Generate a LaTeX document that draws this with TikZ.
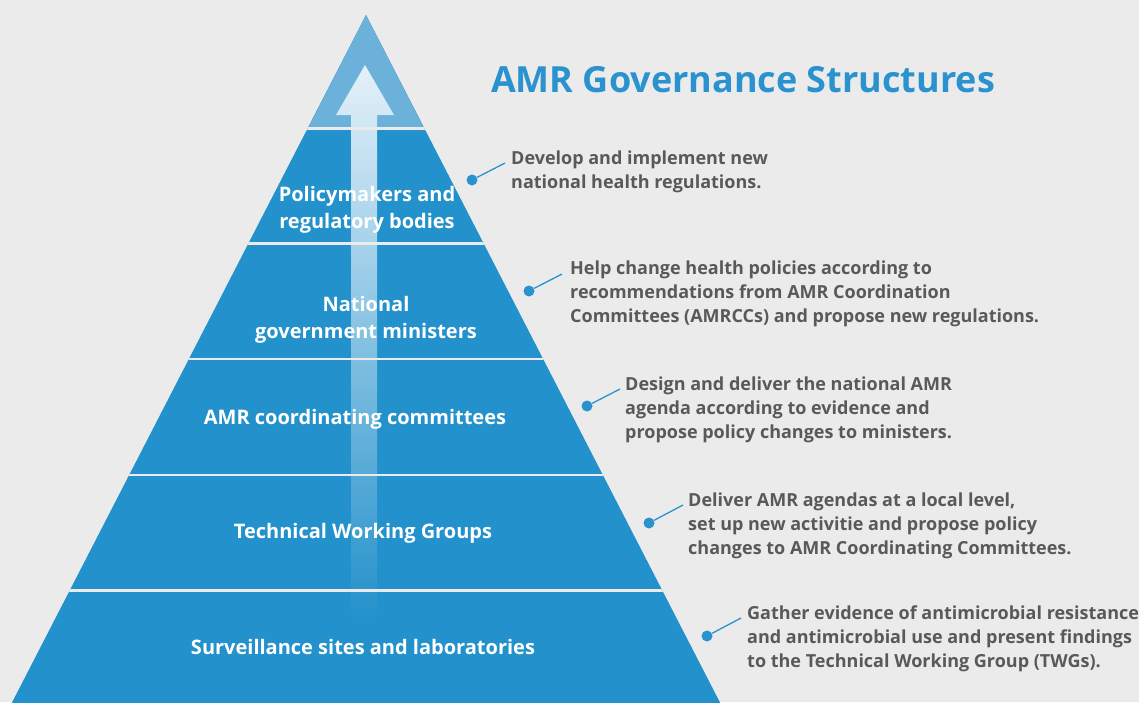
\documentclass[tikz,border=0pt]{standalone}
\usepackage{fontspec}
\setmainfont{Open Sans}

\definecolor{bggray}{HTML}{EBEBEB}
\definecolor{bandblue}{HTML}{2391CB}
\definecolor{topblue}{HTML}{6BB1D9}
\definecolor{arrowtop}{HTML}{E4F1F9}
\definecolor{headblue}{HTML}{2A93CF}
\definecolor{notegray}{HTML}{58595B}

\begin{document}
\begin{tikzpicture}[x=1pt,y=-1pt,
    level/.style={text=white,font=\bfseries\fontsize{20}{27}\selectfont,align=center},
    note/.style={text=notegray,font=\bfseries\fontsize{18}{24}\selectfont,align=left,anchor=west,inner sep=0pt},
    dot/.style={circle,fill=headblue,inner sep=0pt,minimum size=11pt},
    link/.style={headblue,line width=1.3pt}]

	\useasboundingbox (0,0) rectangle (1139,702);
	\fill[bggray] (0,0) rectangle (1139,702);

	% pyramid and its light top
	\fill[bandblue] (366,15) -- (729,720) -- (3,720) -- cycle;
	\fill[topblue] (366,15) -- (424,128.5) -- (308,128.5) -- cycle;

	% upward arrow
	\shade[top color=arrowtop,bottom color=bandblue]
		(365,65) -- (394,115) -- (377,115) -- (377,620) -- (351,620) -- (351,115) -- (336,115) -- cycle;

	% gaps between the levels
	\begin{scope}
		\clip (366,15) -- (729,720) -- (3,720) -- cycle;
		\foreach \y in {128.5,243.5,359,475,590.5}
			\draw[bggray,line width=2.5pt] (0,\y) -- (800,\y);
	\end{scope}

	\node[level] (l1) at (367,210) {Policymakers and\\regulatory bodies};
	\node[level] (l2) at (366,320) {National\\government ministers};
	\node[level] (l3) at (355,419) {AMR coordinating committees};
	\node[level] (l4) at (363,533) {Technical Working Groups};
	\node[level] (l5) at (363,647) {Surveillance sites and laboratories};

	\node[text=headblue,font=\bfseries\fontsize{36}{42}\selectfont] (head) at (743,80) {AMR Governance Structures};

	\node[note] (t1) at (511,172) {Develop and implement new\\national health regulations.};
	\node[note] (t2) at (570,294) {Help change health policies according to\\recommendations from AMR Coordination\\Committees (AMRCCs) and propose new regulations.};
	\node[note] (t3) at (625,410) {Design and deliver the national AMR\\agenda according to evidence and\\propose policy changes to ministers.};
	\node[note] (t4) at (688,526) {Deliver AMR agendas at a local level,\\set up new activitie and propose policy\\changes to AMR Coordinating Committees.};
	\node[note] (t5) at (747,639) {Gather evidence of antimicrobial resistance\\and antimicrobial use and present findings\\to the Technical Working Group (TWGs).};

	\node[dot] (d1) at (472,180) {};
	\node[dot] (d2) at (529,291) {};
	\node[dot] (d3) at (587,406) {};
	\node[dot] (d4) at (649,523) {};
	\node[dot] (d5) at (707,636) {};

	\coordinate (e1) at (505,163);
	\coordinate (e2) at (562,274);
	\coordinate (e3) at (620,389);
	\coordinate (e4) at (683,505);
	\coordinate (e5) at (741,618);

	\draw[link] (d1) -- (e1);
	\draw[link] (d2) -- (e2);
	\draw[link] (d3) -- (e3);
	\draw[link] (d4) -- (e4);
	\draw[link] (d5) -- (e5);
\end{tikzpicture}
\end{document}
